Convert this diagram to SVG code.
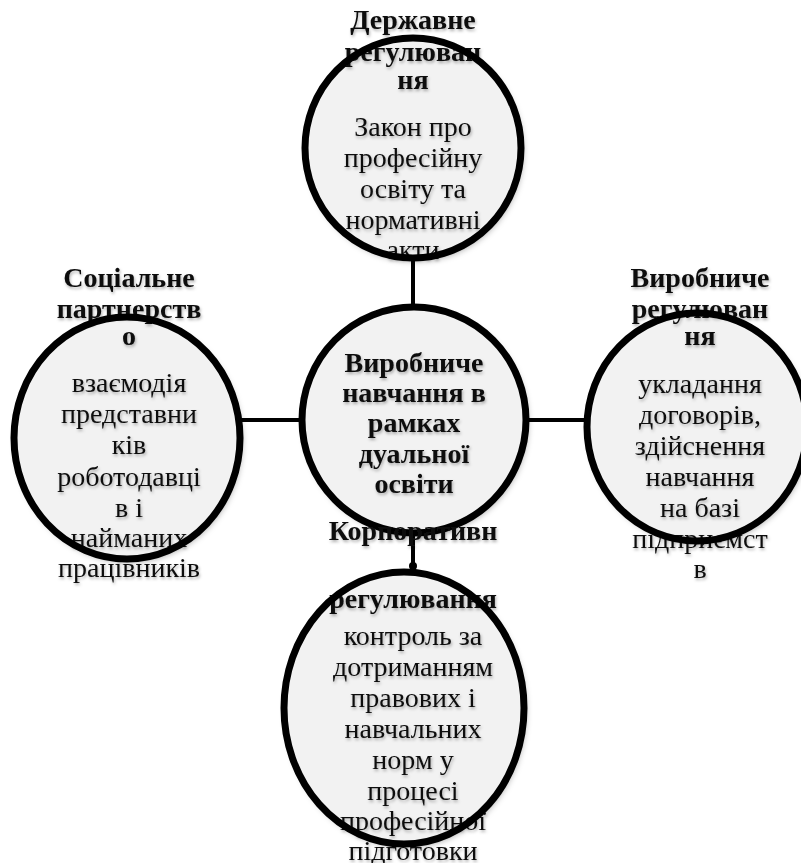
<svg xmlns="http://www.w3.org/2000/svg" width="801" height="863" viewBox="0 0 801 863">
<defs>
<filter id="sh" x="-20%" y="-20%" width="140%" height="140%">
<feDropShadow dx="2" dy="3" stdDeviation="3" flood-color="#000" flood-opacity="0.35"/>
</filter>
<filter id="tsh" x="-10%" y="-20%" width="120%" height="150%">
<feDropShadow dx="1" dy="2" stdDeviation="1.5" flood-color="#000" flood-opacity="0.3"/>
</filter>
</defs>
<style>
.fill{fill:#f2f2f2;stroke:none}
.ring{fill:none;stroke:#000;stroke-width:7}
.con{stroke:#000;stroke-width:4;fill:none}
text{font-family:"Liberation Serif","Times New Roman",serif;font-size:28px;fill:#111;text-anchor:middle}
.b{font-weight:bold}
.t{filter:url(#tsh)}
</style>
<rect width="801" height="863" fill="#fff"/>
<g id="connectors">
<line class="con" x1="413" y1="255" x2="413" y2="310"/>
<line class="con" x1="235" y1="420" x2="592" y2="420"/>
<line class="con" x1="413" y1="530" x2="413" y2="575"/>
<circle cx="413" cy="566" r="4" fill="#000"/>
</g>
<g id="center">
<ellipse class="fill" cx="414" cy="420" rx="112" ry="113" filter="url(#sh)"/>
<g class="t b">
<text x="414" y="372">Виробниче</text>
<text x="414" y="402">навчання в</text>
<text x="414" y="432">рамках</text>
<text x="414" y="463">дуальної</text>
<text x="414" y="493">освіти</text>
</g>
<ellipse class="ring" cx="414" cy="420" rx="112" ry="113"/>
</g>
<g id="top">
<ellipse class="fill" cx="413" cy="148" rx="108" ry="110" filter="url(#sh)"/>
<g class="t">
<text class="b" x="413" y="29">Державне</text>
<text class="b" x="413" y="61">регулюван</text>
<text class="b" x="413" y="89">ня</text>
<text x="413" y="136">Закон про</text>
<text x="413" y="167">професійну</text>
<text x="413" y="198">освіту та</text>
<text x="413" y="229">нормативні</text>
<text x="413" y="259">акти</text>
</g>
<ellipse class="ring" cx="413" cy="148" rx="108" ry="110"/>
</g>
<g id="left">
<ellipse class="fill" cx="127" cy="438" rx="113" ry="121" filter="url(#sh)"/>
<g class="t">
<text class="b" x="129" y="287">Соціальне</text>
<text class="b" x="129" y="318">партнерств</text>
<text class="b" x="129" y="345">о</text>
<text x="129" y="392">взаємодія</text>
<text x="129" y="423">представни</text>
<text x="129" y="454">ків</text>
<text x="129" y="486">роботодавці</text>
<text x="129" y="517">в і</text>
<text x="129" y="547">найманих</text>
<text x="129" y="577">працівників</text>
</g>
<ellipse class="ring" cx="127" cy="438" rx="113" ry="121"/>
</g>
<g id="right">
<ellipse class="fill" cx="697" cy="427" rx="110" ry="114" filter="url(#sh)"/>
<g class="t">
<text class="b" x="700" y="287">Виробниче</text>
<text class="b" x="700" y="318">регулюван</text>
<text class="b" x="700" y="345">ня</text>
<text x="700" y="393">укладання</text>
<text x="700" y="424">договорів,</text>
<text x="700" y="455">здійснення</text>
<text x="700" y="486">навчання</text>
<text x="700" y="517">на базі</text>
<text x="700" y="548">підприємст</text>
<text x="700" y="578">в</text>
</g>
<ellipse class="ring" cx="697" cy="427" rx="110" ry="114"/>
</g>
<g id="bottom">
<ellipse class="fill" cx="404" cy="708" rx="120" ry="136" filter="url(#sh)"/>
<g class="t">
<text class="b" x="413" y="540">Корпоративн</text>
<text class="b" x="413" y="608">регулювання</text>
<text x="413" y="645">контроль за</text>
<text x="413" y="676">дотриманням</text>
<text x="413" y="707">правових і</text>
<text x="413" y="738">навчальних</text>
<text x="413" y="769">норм у</text>
<text x="413" y="800">процесі</text>
<text x="413" y="830">професійної</text>
<text x="413" y="860">підготовки</text>
</g>
<ellipse class="ring" cx="404" cy="708" rx="120" ry="136"/>
</g>
</svg>
